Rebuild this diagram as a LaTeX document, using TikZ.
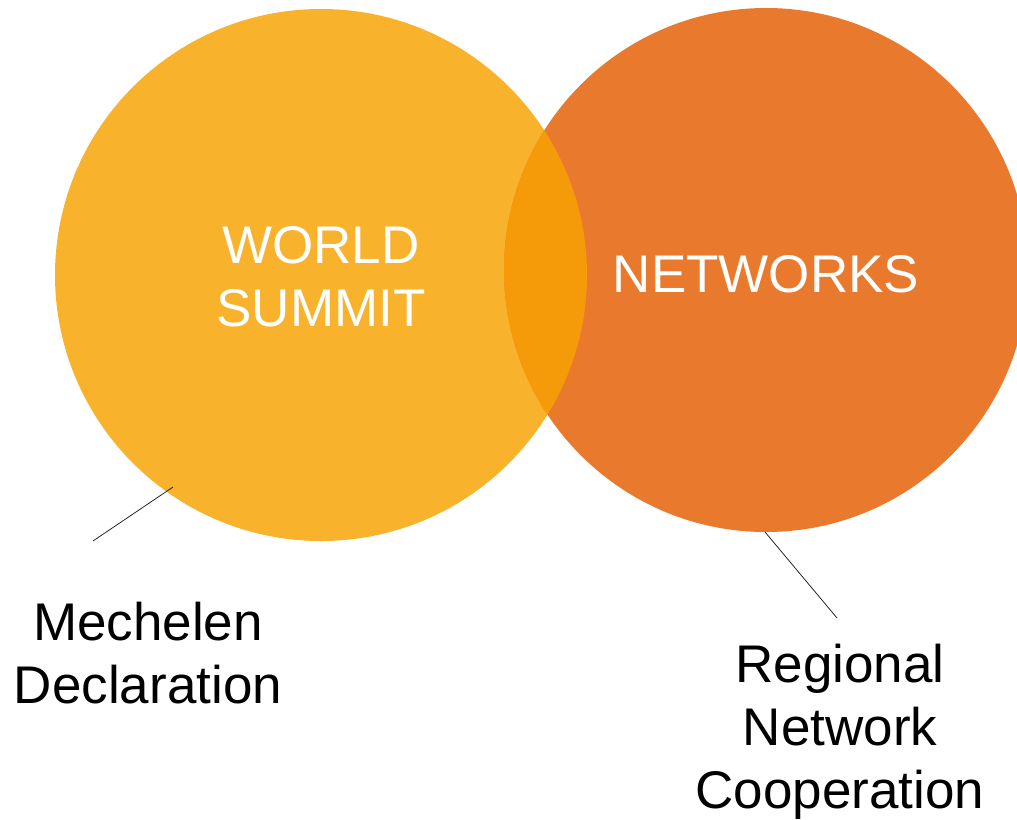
\documentclass[tikz,border=0pt]{standalone}
\usepackage{fontspec}
\setmainfont{Liberation Sans}
\usetikzlibrary{positioning}
\definecolor{summitorange}{HTML}{F8B22C}
\definecolor{networkorange}{HTML}{E9792D}
\definecolor{overlaporange}{HTML}{F59B0A}

\begin{document}
\begin{tikzpicture}[x=1pt,y=-1pt,
    bubble/.style={circle, inner sep=0pt, text=white, align=center, font=\fontsize{53}{63}\selectfont},
    caption/.style={inner sep=0pt, align=center, anchor=north, font=\fontsize{53}{63}\selectfont},
    pointer/.style={draw=black!85, line width=0.8pt}]
        \useasboundingbox (0,0) rectangle (1017,819);
        % Circles
        \node [bubble, fill=summitorange, minimum size=532pt] (summit) at (321,275) {};
        \node [bubble, fill=networkorange, minimum size=524pt] (network) at (766,270) {};
        \begin{scope}
            \clip (321,275) circle (266);
            \fill [overlaporange] (766,270) circle (262);
        \end{scope}
        
        % Labels
        \node [caption, text=white] (summittext) at (321,226) {WORLD\\SUMMIT};
        \node [inner sep=0pt, anchor=base, text=white, font=\fontsize{53}{63}\selectfont] (networktext) at (766,292) {NETWORKS};
        \node [caption] (mechelen) at (148,602) {Mechelen\\Declaration};
        \node [caption] (regional) at (840,644) {Regional\\Network\\Cooperation};
        
        % Lines
        \coordinate (summitpin) at (173,487);
        \coordinate (mechelenpin) at (93,541);
        \coordinate (networkpin) at (765,532);
        \coordinate (regionalpin) at (837,618);
        \draw[pointer] (summitpin) -- (mechelenpin);
        \draw[pointer] (networkpin) -- (regionalpin);
        
        \end{tikzpicture}
\end{document}
